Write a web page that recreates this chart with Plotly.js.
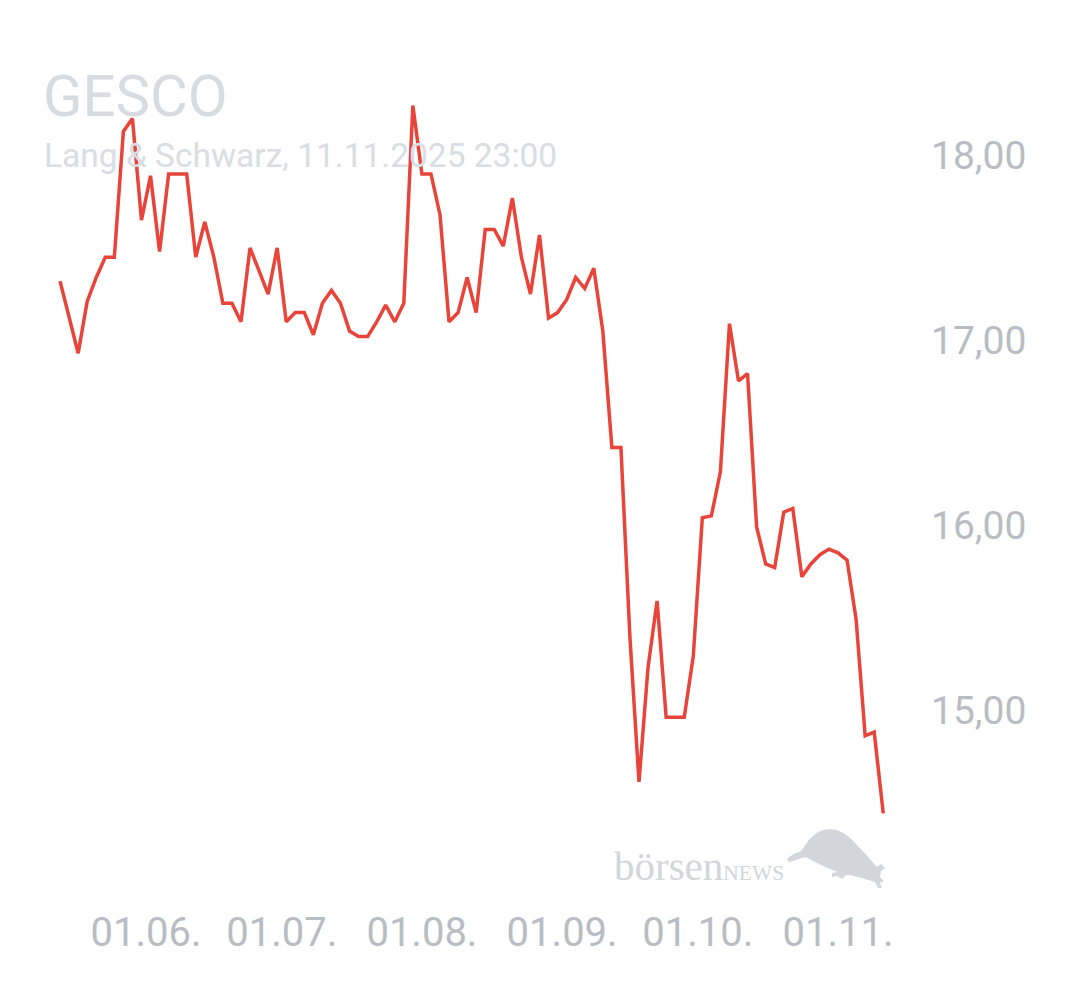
<!DOCTYPE html>
<html>
<head>
<meta charset="utf-8">
<script src="https://cdn.plot.ly/plotly-3.0.1.min.js"></script>
<style>
  html, body { margin: 0; padding: 0; background: #ffffff; }
  #chart { width: 1080px; height: 990px; }
</style>
</head>
<body>
<div id="chart"></div>
<script>
// ---- data ----
const chartTitle = "GESCO";
const chartSubtitle = "Lang & Schwarz, 11.11.2025 23:00";

const dates = [
  "2025-05-13","2025-05-17","2025-05-19","2025-05-21","2025-05-23","2025-05-25","2025-05-27","2025-05-29","2025-05-31",
  "2025-06-02","2025-06-04","2025-06-06","2025-06-08","2025-06-10","2025-06-12","2025-06-14","2025-06-16","2025-06-18",
  "2025-06-20","2025-06-22","2025-06-24","2025-06-28","2025-06-30",
  "2025-07-02","2025-07-04","2025-07-06","2025-07-08","2025-07-10","2025-07-12","2025-07-14","2025-07-16","2025-07-18",
  "2025-07-20","2025-07-22","2025-07-24","2025-07-26","2025-07-28","2025-07-30",
  "2025-08-01","2025-08-03","2025-08-05","2025-08-07","2025-08-09","2025-08-11","2025-08-13","2025-08-15","2025-08-17",
  "2025-08-19","2025-08-21","2025-08-23","2025-08-25","2025-08-27","2025-08-29","2025-08-31",
  "2025-09-02","2025-09-04","2025-09-06","2025-09-08","2025-09-10","2025-09-12","2025-09-14","2025-09-16","2025-09-18",
  "2025-09-20","2025-09-22","2025-09-24","2025-09-26","2025-09-28","2025-09-30",
  "2025-10-02","2025-10-04","2025-10-06","2025-10-08","2025-10-10","2025-10-12","2025-10-14","2025-10-16","2025-10-18",
  "2025-10-20","2025-10-22","2025-10-24","2025-10-26","2025-10-28","2025-10-30",
  "2025-11-01","2025-11-03","2025-11-05","2025-11-07","2025-11-09","2025-11-11"
];

const prices = [
  17.32,16.93,17.21,17.34,17.45,17.45,18.13,18.20,17.65,
  17.89,17.48,17.90,17.90,17.90,17.45,17.64,17.45,17.20,
  17.20,17.10,17.50,17.25,17.50,
  17.10,17.15,17.15,17.03,17.20,17.27,17.20,17.05,17.02,
  17.02,17.10,17.19,17.10,17.20,18.27,
  17.90,17.90,17.68,17.10,17.15,17.34,17.15,17.60,17.60,
  17.51,17.77,17.45,17.25,17.57,17.12,17.15,
  17.22,17.34,17.28,17.39,17.05,16.42,16.42,15.39,14.61,
  15.23,15.59,14.96,14.96,14.96,15.29,
  16.04,16.05,16.29,17.09,16.78,16.82,15.99,15.79,15.77,
  16.07,16.09,15.72,15.79,15.84,15.87,
  15.85,15.81,15.49,14.86,14.88,14.44
];

const yTickValues = [15, 16, 17, 18];
const xTickStart = "2025-06-01";

const watermarkWord = "börsen";
const watermarkCaps = "NEWS";

// ---- layout geometry ----
const W = 1080, H = 990;
const L = 40, R = 910, T = 90, B = 895;
const DAY = 86400000;
const pxPerDay = 4.523;
const anchorDateMs = Date.UTC(2025, 5, 1);
const anchorPx = 146;
const pxPerUnit = 184.8;
const anchorVal = 18, anchorValPx = 155.5;

function fmt(ms) {
  return new Date(ms).toISOString().replace('T', ' ').replace('Z', '');
}
const xRange = [
  fmt(anchorDateMs - (anchorPx - L) / pxPerDay * DAY),
  fmt(anchorDateMs + (R - anchorPx) / pxPerDay * DAY)
];
const yRange = [
  anchorVal - (B - anchorValPx) / pxPerUnit,
  anchorVal + (anchorValPx - T) / pxPerUnit
];
const px2x = p => (p - L) / (R - L);
const px2y = p => (B - p) / (B - T);

// bull silhouette (logo graphic), drawn in a 115x75 box
const bullSvg = '<svg xmlns="http://www.w3.org/2000/svg" viewBox="0 0 115 75">' +
  '<path fill="#d3d6da" d="M7,34 C12,30 16,27 20,27 L24,22 C30,12 38,5 48,4 C60,4 68,10 75,18 ' +
  'C85,28 92,36 97,42 L101,39 L105,43 L101,46 L100,52 L104,56 L100,58 L102,63 L98,63 L95,57 L92,56 ' +
  'C85,54 78,52 70,50 L66,50 L62,54 L57,51 L52,52 L52,48 L58,47 L50,44 C44,42 38,38 33,36 L26,32 ' +
  'C20,33 14,36 9,37 Z"/></svg>';
const bullUri = 'data:image/svg+xml;charset=utf-8,' + encodeURIComponent(bullSvg);

const trace = {
  x: dates,
  y: prices,
  type: 'scatter',
  mode: 'lines',
  line: { color: '#e8443a', width: 3.5 },
  hoverinfo: 'skip'
};

const layout = {
  width: W, height: H,
  margin: { l: L, r: W - R, t: T, b: H - B, pad: 0 },
  paper_bgcolor: '#ffffff',
  plot_bgcolor: '#ffffff',
  separators: ',.',
  showlegend: false,
  xaxis: {
    type: 'date',
    range: xRange,
    tick0: xTickStart,
    dtick: 'M1',
    tickformat: '%d.%m.',
    showgrid: false, zeroline: false, showline: false, ticks: '',
    ticklabelstandoff: 10,
    tickfont: { family: 'Roboto, sans-serif', size: 40, color: '#b9bdc3' },
    fixedrange: true
  },
  yaxis: {
    side: 'right',
    range: yRange,
    tickmode: 'array',
    tickvals: yTickValues,
    tickformat: '.2f',
    showgrid: false, zeroline: false, showline: false, ticks: '',
    ticklabelstandoff: 20,
    tickfont: { family: 'Roboto, sans-serif', size: 39, color: '#b9bdc3' },
    fixedrange: true
  },
  annotations: [
    {
      text: chartTitle, xref: 'paper', yref: 'paper',
      x: px2x(41), y: px2y(96), xanchor: 'left', yanchor: 'middle',
      showarrow: false,
      font: { family: 'Roboto, sans-serif', size: 58, color: '#d8dbdf' }
    },
    {
      text: chartSubtitle, xref: 'paper', yref: 'paper',
      x: px2x(42), y: px2y(155), xanchor: 'left', yanchor: 'middle',
      showarrow: false,
      font: { family: 'Roboto, sans-serif', size: 33.5, color: '#dadde1' }
    },
    {
      text: watermarkWord + '<span style="font-size:21.5px">' + watermarkCaps + '</span>',
      xref: 'paper', yref: 'paper',
      x: px2x(612), y: px2y(866), xanchor: 'left', yanchor: 'middle',
      showarrow: false,
      font: { family: '"Liberation Serif", "DejaVu Serif", serif', size: 41, color: '#d3d6da' }
    }
  ],
  images: [
    {
      source: bullUri, xref: 'paper', yref: 'paper',
      x: px2x(780), y: px2y(825), sizex: 115 / (R - L), sizey: 75 / (B - T),
      xanchor: 'left', yanchor: 'top', sizing: 'stretch', layer: 'above'
    }
  ]
};

Plotly.newPlot('chart', [trace], layout, { displayModeBar: false, staticPlot: true });
</script>
</body>
</html>
